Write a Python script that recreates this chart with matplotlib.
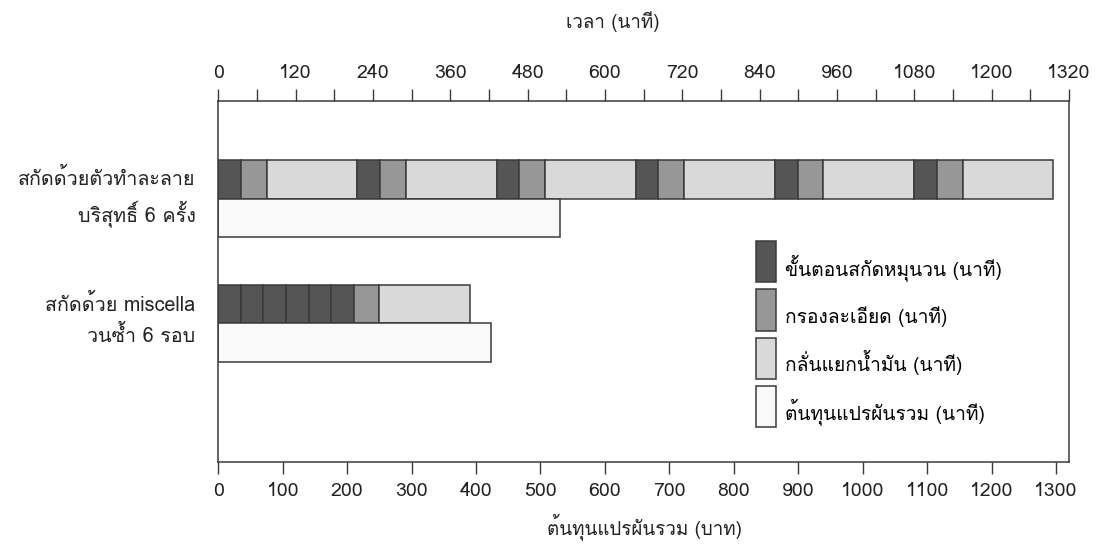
import matplotlib
matplotlib.use("Agg")
import matplotlib.pyplot as plt
from matplotlib import font_manager
from matplotlib.patches import Patch, Rectangle
from matplotlib.legend_handler import HandlerPatch
from matplotlib.ticker import MultipleLocator
from fontTools.ttLib import TTFont

# Pick an installed family that has Thai glyphs
def thai_family():
    seen = set()
    for f in font_manager.fontManager.ttflist:
        if f.name in seen:
            continue
        seen.add(f.name)
        try:
            kw = {"fontNumber": 0} if f.fname.lower().endswith((".ttc", ".otc")) else {}
            tt = TTFont(f.fname, lazy=True, **kw)
            cmap = tt.getBestCmap() or {}
            if 0x0E01 in cmap and 0x0E49 in cmap and 0x0E17 in cmap:
                return f.name
        except Exception:
            pass
    return None

fam = thai_family()
plt.rcParams["font.family"] = ([fam] if fam else []) + ["DejaVu Sans"]

# ---- data ----
methods = ["สกัดด้วยตัวทำละลาย\nบริสุทธิ์ 6 ครั้ง", "สกัดด้วย miscella\nวนซ้ำ 6 รอบ"]
stage_names = ["ขั้นตอนสกัดหมุนวน (นาที)", "กรองละเอียด (นาที)",
               "กลั่นแยกน้ำมัน (นาที)", "ต้นทุนแปรผันรวม (นาที)"]
# stage index of each consecutive segment and its duration in minutes
solvent_stage = [0, 1, 2, 0, 1, 2, 0, 1, 2, 0, 1, 2, 0, 1, 2, 0, 1, 2]
solvent_minutes = [35, 40, 141, 35, 40, 141, 35, 40, 141,
                   35, 40, 141, 35, 40, 141, 35, 40, 141]
miscella_stage = [0, 0, 0, 0, 0, 0, 1, 2]
miscella_minutes = [35, 35, 35, 35, 35, 35, 40, 141]
total_cost = [530, 423]  # baht

top_ticks = [0, 120, 240, 360, 480, 600, 720, 840, 960, 1080, 1200, 1320]
bottom_ticks = [0, 100, 200, 300, 400, 500, 600, 700, 800, 900, 1000, 1100, 1200, 1300]

colors = ["#555555", "#979797", "#d9d9d9", "#f9f9f9"]
edge = "#3a3a3a"
text_c = "#222222"

W, H = 1117, 551
fig = plt.figure(figsize=(W / 100, H / 100), dpi=100)
ax = fig.add_axes([218.3 / W, 1 - 462.3 / H, (1068.9 - 218.3) / W, (462.3 - 101) / H])

group_y = [2.545, 5.774]
h = 1.0
sequences = [(solvent_stage, solvent_minutes), (miscella_stage, miscella_minutes)]
for gi, (stages, mins) in enumerate(sequences):
    left = 0
    for s, m in zip(stages, mins):
        ax.barh(group_y[gi] - h / 2, m, left=left, height=h, color=colors[s],
                edgecolor=edge, linewidth=1.1)
        left += m
    ax.barh(group_y[gi] + h / 2, total_cost[gi], height=h, color=colors[3],
            edgecolor=edge, linewidth=1.1)

ax.set_xlim(0, 1320)
ax.set_ylim(9.385, 0)
for sp in ax.spines.values():
    sp.set_color(edge)
    sp.set_linewidth(1.1)

ax.set_yticks([g - 0.26 for g in group_y])
ax.set_yticklabels(methods, fontsize=14.2, color=text_c, ha="right", linespacing=1.55)
ax.tick_params(axis="y", length=0, pad=16.5)

ax.set_xticks(bottom_ticks)
ax.set_xticklabels([str(t) for t in bottom_ticks], fontsize=14, color=text_c)
ax.tick_params(axis="x", direction="out", length=8.4, width=1.0, color=edge, pad=6)

top = ax.secondary_xaxis("top")
top.set_xticks(top_ticks)
top.set_xticklabels([str(t) for t in top_ticks], fontsize=14, color=text_c)
top.xaxis.set_minor_locator(MultipleLocator(60))
top.tick_params(which="both", direction="out", length=8.4, width=1.0, color=edge, pad=5)
top.spines["top"].set_visible(False)

fig.text(613 / W, 1 - 22 / H, "เวลา (นาที)", fontsize=13.5, color=text_c, ha="center", va="center")
fig.text(644 / W, 1 - 527 / H, "ต้นทุนแปรผันรวม (บาท)", fontsize=13.5, color=text_c,
         ha="center", va="center")


# tall legend swatches, centred a little above the label's middle
def tall_swatch(legend, orig_handle, xdescent, ydescent, width, height, fontsize):
    sw_h = 2.14 * fontsize
    yc = 0.68 * fontsize
    return Rectangle((-xdescent, yc - sw_h / 2), width, sw_h)


handles = [Patch(facecolor=c, edgecolor=edge, linewidth=1.1) for c in colors]
fig.legend(handles, stage_names, loc="upper left", bbox_to_anchor=(739 / W, 1 - 234 / H),
           frameon=False, fontsize=13.8, handlelength=1.05, handleheight=2.5,
           labelspacing=0.635, handletextpad=0.45,
           handler_map={Patch: HandlerPatch(patch_func=tall_swatch)})

fig.savefig("out.png", dpi=100)
